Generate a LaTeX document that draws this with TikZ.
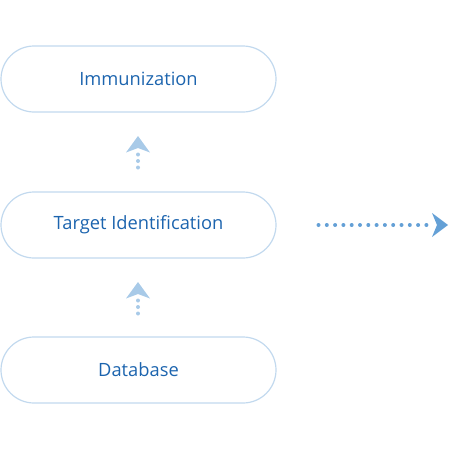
\documentclass[tikz,border=0pt]{standalone}
\usepackage{fontspec}
\setmainfont{Open Sans}
\definecolor{boxline}{HTML}{C2D9EE}
\definecolor{txt}{HTML}{1C64AE}
\definecolor{lightar}{HTML}{A8CAE8}
\definecolor{darkar}{HTML}{64A0D6}
\begin{document}
\begin{tikzpicture}[x=1pt,y=-1pt,
  pill/.style={draw=boxline,line width=1.2pt,rounded corners=33pt,minimum width=275pt,minimum height=66pt,inner sep=0pt,text=txt,font=\fontsize{18.3}{20}\selectfont},
  dotl/.style={fill=lightar},
  dotd/.style={fill=darkar}]
\useasboundingbox (0,0) rectangle (449,450);
\node[pill] (imm) at (138.5,79) {Immunization};
\node[pill] (tgt) at (138.5,225) {Target Identification};
\node[pill] (db) at (138.5,370) {Database};
% vertical arrow 1
\coordinate (a1) at (138,136);
\foreach \yy in {154.5,161,167.5} \fill[dotl] (138,\yy) circle (2);
\fill[lightar] (a1) -- (126,152.5) -- (138,148) -- (150,152.5) -- cycle;
% vertical arrow 2
\coordinate (a2) at (138,282);
\foreach \yy in {300.5,307,313.5} \fill[dotl] (138,\yy) circle (2);
\fill[lightar] (a2) -- (126,298.5) -- (138,294) -- (150,298.5) -- cycle;
% horizontal arrow
\coordinate (a3) at (448,225);
\foreach \i in {0,...,13} \fill[dotd] (318.5+8.3*\i,225) circle (2);
\fill[darkar] (a3) -- (432,213) -- (437,225) -- (432,237) -- cycle;
\end{tikzpicture}
\end{document}
